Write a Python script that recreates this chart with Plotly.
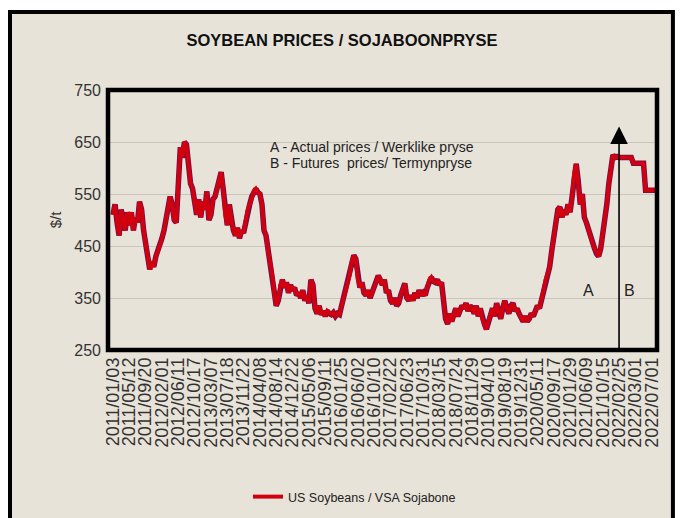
import plotly.graph_objects as go

# ---------------- data ----------------
tick_labels = [
    "2011/01/03", "2011/05/12", "2011/09/20", "2012/02/01", "2012/06/11", "2012/10/17",
    "2013/03/07", "2013/07/18", "2013/11/22", "2014/04/08", "2014/08/14", "2014/12/22",
    "2015/05/06", "2015/09/11", "2016/01/25", "2016/06/02", "2016/10/10", "2017/02/22",
    "2017/06/23", "2017/10/31", "2018/03/15", "2018/07/24", "2018/11/29", "2019/04/10",
    "2019/08/19", "2019/12/31", "2020/05/11", "2020/09/17", "2021/01/29", "2021/06/09",
    "2021/10/15", "2022/02/25", "2022/03/01", "2022/07/01",
]
points_per_label = 8

# actual prices (A), $/t
actual_prices = [
    510, 530, 495, 470, 520, 500, 480, 515,
    490, 515, 480, 505, 495, 535, 520, 480,
    450, 430, 405, 420, 410, 430, 440, 450,
    465, 480, 500, 520, 545, 530, 500, 495,
    590, 640, 620, 650, 645, 600, 570, 560,
    530, 510, 540, 505, 535, 520, 555, 500,
    510, 540, 545, 560, 575, 592, 560, 510,
    490, 530, 500, 480, 470, 485, 465, 480,
    475, 495, 520, 530, 545, 555, 560, 553,
    550, 530, 480, 470, 440, 420, 395, 360,
    335, 345, 375, 385, 370, 380, 360, 375,
    365, 370, 355, 360, 350, 365, 345, 355,
    340, 385, 375, 330, 320, 335, 318, 325,
    315, 325, 320, 318, 322, 315, 320, 318,
    335, 350, 370, 385, 395, 420, 432, 425,
    385, 370, 380, 360, 355, 365, 350, 360,
    370, 380, 393, 385, 375, 385, 360, 365,
    345, 340, 350, 335, 340, 355, 370, 378,
    350, 345, 355, 345, 360, 350, 365, 355,
    360, 355, 370, 385, 390, 382, 380, 385,
    375, 380, 345, 310, 300, 320, 305, 320,
    330, 315, 325, 335, 330, 340, 325, 335,
    330, 320, 335, 315, 330, 310, 300, 290,
    305, 320, 330, 315, 340, 325, 310, 330,
    345, 330, 320, 335, 340, 325, 330, 320,
    310, 305, 315, 305, 310, 320, 315, 325,
    335, 330, 345, 365, 385, 395, 410, 440,
    470, 500, 520, 525, 505, 520, 510, 530,
    515, 545, 590, 608, 575, 530, 550, 505,
    495, 480, 470, 455, 445, 435, 430, 445,
    470, 500, 530, 570, 600, 625, 620, 622,
    620,
]
# futures prices (B), $/t
futures_prices = [
    620, 620, 620, 620, 620, 620,
    609, 609, 609, 609, 609, 609,
    557, 557, 557, 557, 557, 557,
]

series_name = "US Soybeans / VSA Sojabone"
title_text = "SOYBEAN PRICES / SOJABOONPRYSE"
note_lines = ["A - Actual prices / Werklike pryse", "B - Futures  prices/ Termynpryse"]

# ---------------- figure ----------------
all_prices = actual_prices + futures_prices
x_vals = list(range(len(all_prices)))
tick_vals = [i * points_per_label for i in range(len(tick_labels))]
split_index = len(actual_prices) - 1

BG = "#E8E3D9"
FONT = "Liberation Sans, Arial, sans-serif"

fig = go.Figure()
fig.add_trace(go.Scatter(
    x=x_vals, y=all_prices, mode="lines",
    line=dict(color="#6A1050", width=5.5), showlegend=False, hoverinfo="skip",
))
fig.add_trace(go.Scatter(
    x=x_vals, y=all_prices, mode="lines", name=series_name,
    line=dict(color="#D0000F", width=4),
))

# outer frame (beige panel with black border)
fig.add_shape(type="rect", xref="paper", yref="paper",
              x0=-0.1785, x1=1.029, y0=-0.70, y1=1.3,
              line=dict(color="black", width=4), fillcolor=BG, layer="below")
# plot border
fig.add_shape(type="rect", xref="paper", yref="paper",
              x0=0, x1=1, y0=0, y1=1,
              line=dict(color="black", width=4.5), fillcolor="rgba(0,0,0,0)", layer="above")

# arrow separating actual / futures
fig.add_annotation(x=split_index, y=680, ax=split_index, ay=250,
                   xref="x", yref="y", axref="x", ayref="y",
                   text="", showarrow=True, arrowhead=2, arrowsize=2.2,
                   arrowwidth=1.6, arrowcolor="black")

for txt, yp in zip(note_lines, [0.781, 0.719]):
    fig.add_annotation(x=0.291, y=yp, xref="paper", yref="paper", text=txt,
                       showarrow=False, xanchor="left", yanchor="middle", align="left",
                       font=dict(family=FONT, size=14, color="#222222"))
fig.add_annotation(x=split_index - 15, y=365, xref="x", yref="y", text="A",
                   showarrow=False, font=dict(family=FONT, size=16, color="#222222"))
fig.add_annotation(x=split_index + 5, y=365, xref="x", yref="y", text="B",
                   showarrow=False, font=dict(family=FONT, size=16, color="#222222"))

fig.update_layout(
    width=684, height=518,
    margin=dict(l=108, r=27, t=90, b=168, autoexpand=False),
    paper_bgcolor="white", plot_bgcolor="rgba(0,0,0,0)",
    font=dict(family=FONT, color="#333333"),
    title=dict(text="<b>" + title_text + "</b>", x=0.5, xanchor="center",
               y=1 - 40 / 518, yanchor="middle",
               font=dict(family=FONT, size=16.5, color="#111111")),
    showlegend=True,
    legend=dict(orientation="h", x=0.449, xanchor="center",
                yref="container", y=1 - 497 / 518, yanchor="middle",
                bgcolor="rgba(0,0,0,0)", font=dict(family=FONT, size=12.5, color="#222222")),
    xaxis=dict(range=[-2.45, 266.6], tickmode="array", tickvals=tick_vals,
               ticktext=tick_labels, tickangle=-90, showgrid=False, zeroline=False,
               showline=False, ticks="", ticklabelstandoff=3, automargin=False,
               tickfont=dict(family=FONT, size=18, color="#333333")),
    yaxis=dict(range=[250, 750], tickvals=[250, 350, 450, 550, 650, 750],
               showgrid=True, gridcolor="#C9C4BE", gridwidth=1, zeroline=False,
               showline=False, ticks="", ticklabelstandoff=6, automargin=False,
               tickfont=dict(family=FONT, size=16, color="#333333"),
               title=dict(text="$/t", standoff=9,
                          font=dict(family=FONT, size=15, color="#333333"))),
)

fig.write_html("out.html", config={"displayModeBar": False},
               post_script="document.body.style.margin='0';document.body.style.padding='0';")
